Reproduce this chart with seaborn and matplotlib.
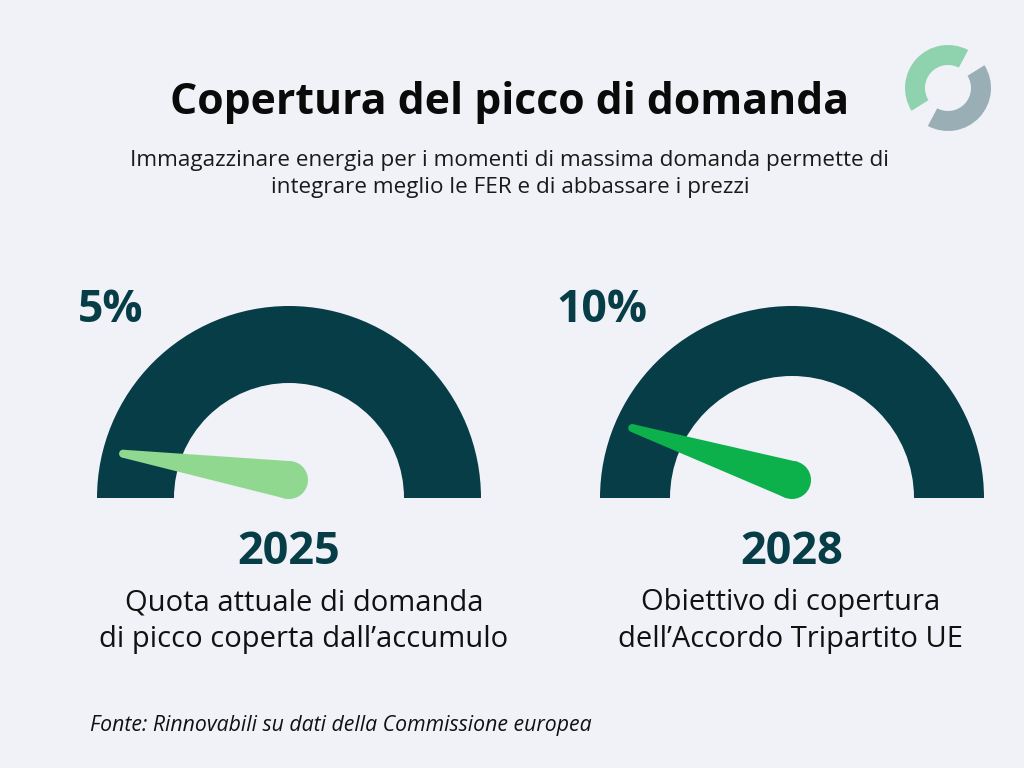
import seaborn as sns
import matplotlib.pyplot as plt
import numpy as np
from matplotlib.patches import Wedge, Circle, Polygon

# data
years = ['2025', '2028']
shares = [5, 10]          # % of peak demand covered by storage
pct_labels = ['5%', '10%']
descriptions = ['Quota attuale di domanda\ndi picco coperta dall\u2019accumulo',
                'Obiettivo di copertura\ndell\u2019Accordo Tripartito UE']

title = 'Copertura del picco di domanda'
subtitle = ('Immagazzinare energia per i momenti di massima domanda permette di\n'
            'integrare meglio le FER e di abbassare i prezzi')
source = 'Fonte: Rinnovabili su dati della Commissione europea'

bg = '#F0F2F8'
dark = '#073D47'
needle_colors = ['#90D88F', '#0DB14B']

sns.set_theme(style='white', rc={'figure.facecolor': bg, 'axes.facecolor': bg})
plt.rcParams['font.family'] = ['Open Sans', 'DejaVu Sans']

fig = plt.figure(figsize=(10.24, 7.68), dpi=100)
ax = fig.add_axes([0, 0, 1, 1])
ax.set_xlim(0, 1024)
ax.set_ylim(0, 768)
ax.set_axis_off()

centers = [289, 792]
desc_x = [304, 791]
base_y = 270
outer_r = 192
ring_w = [77, 70]


def needle(ax, cx, cy, value, color, length=168, r_hub=19, r_tip=4):
    ang = np.deg2rad(180 - 180 * value / 100)
    tx, ty = cx + length * np.cos(ang), cy + length * np.sin(ang)
    px, py = -np.sin(ang), np.cos(ang)
    pts = [(cx + px * r_hub, cy + py * r_hub), (tx + px * r_tip, ty + py * r_tip),
           (tx - px * r_tip, ty - py * r_tip), (cx - px * r_hub, cy - py * r_hub)]
    ax.add_patch(Polygon(pts, closed=True, color=color, lw=0, zorder=3))
    ax.add_patch(Circle((cx, cy), r_hub, color=color, lw=0, zorder=3))
    ax.add_patch(Circle((tx, ty), r_tip, color=color, lw=0, zorder=3))


for i, (cx, val) in enumerate(zip(centers, shares)):
    ax.add_patch(Wedge((cx, base_y), outer_r, 0, 180, width=ring_w[i],
                       color=dark, lw=0, zorder=2))
    needle(ax, cx, base_y + 18, val, needle_colors[i])
    ax.text(cx, 215, years[i], ha='center', va='center', fontsize=32.5,
            fontweight='bold', color=dark)
    ax.text(desc_x[i], 147, descriptions[i], ha='center', va='center', fontsize=21,
            color='#111111', linespacing=1.35)

ax.text(78, 458, pct_labels[0], ha='left', va='center', fontsize=32,
        fontweight='bold', color=dark)
ax.text(556, 458, pct_labels[1], ha='left', va='center', fontsize=32,
        fontweight='bold', color=dark)

ax.text(510, 666, title, ha='center', va='center', fontsize=30.8,
        fontweight='bold', color='#0A0A0A')
ax.text(510, 594, subtitle, ha='center', va='center', fontsize=16.2,
        color='#1A1A1A', linespacing=1.35)
ax.text(90, 43, source, ha='left', va='center', fontsize=15.3,
        style='italic', color='#111111')

# logo
ax.add_patch(Wedge((948, 680), 43, 62, 212, width=20, color='#8ED3AE', lw=0))
ax.add_patch(Wedge((948, 680), 43, -118, 32, width=20, color='#9AAFB5', lw=0))

fig.savefig('out.png', dpi=100, facecolor=bg)
